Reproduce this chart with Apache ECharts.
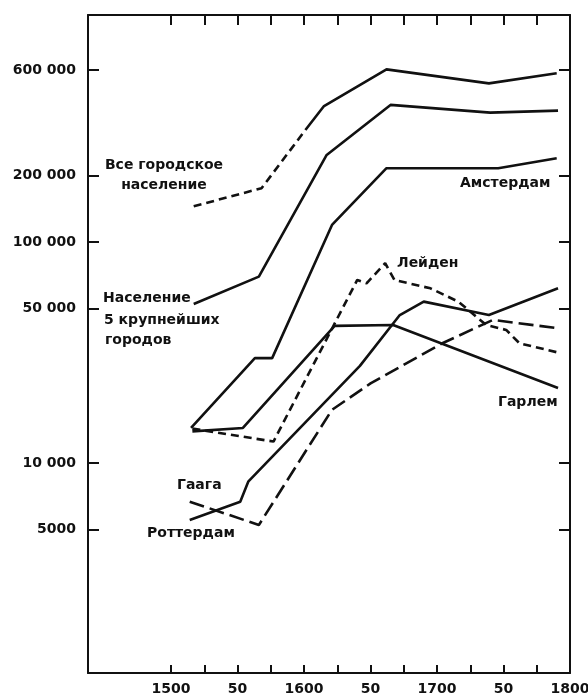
<!DOCTYPE html>
<html>
<head>
<meta charset="utf-8">
<script src="https://cdn.jsdelivr.net/npm/echarts@6/dist/echarts.min.js"></script>
<style>
  html, body { margin: 0; padding: 0; background: #fff; }
  #chart { width: 588px; height: 698px; }
</style>
</head>
<body>
<div id="chart"></div>
<script>
// ось X: засечки каждые 25 лет, подписи каждые 50
const xTicks = [1500, 1525, 1550, 1575, 1600, 1625, 1650, 1675, 1700, 1725, 1750, 1775]
const xLabels = [1500, 1550, 1600, 1650, 1700, 1750, 1800]
const yLabels = [5000, 10000, 50000, 100000, 200000, 600000]

// все городское население (пунктир до ~1600, дальше сплошная)
const totalDashYears = [1517, 1568, 1601]
const totalDashValues = [145000, 175000, 321000]
const totalYears = [1601, 1615, 1662, 1739, 1790]
const totalValues = [321000, 412000, 604000, 522000, 580000]

// население 5 крупнейших городов
const fiveYears = [1517, 1566, 1617, 1665, 1740, 1791]
const fiveValues = [52400, 69700, 247600, 417000, 384700, 393000]

const amsterdamYears = [1515, 1563, 1576, 1621, 1662, 1746, 1790]
const amsterdamValues = [14400, 29800, 29800, 119400, 215600, 215600, 239000]

const haarlemYears = [1516, 1554, 1623, 1667, 1791]
const haarlemValues = [13900, 14400, 41700, 42100, 21850]

const leidenYears = [1516, 1577, 1640, 1647, 1661, 1668, 1695, 1716, 1737, 1752, 1762, 1791]
const leidenValues = [14300, 12500, 67300, 65000, 80100, 67300, 61700, 53700, 42100, 40000, 34800, 31600]

const rotterdamYears = [1514, 1552, 1558, 1642, 1672, 1690, 1739, 1791]
const rotterdamValues = [5520, 6680, 8230, 27500, 46700, 53700, 46700, 61700]

const hagueYears = [1514, 1566, 1621, 1650, 1704, 1742, 1791]
const hagueValues = [6680, 5240, 17400, 22900, 34800, 44400, 40700]

const INK = '#111'
const FONT = 'DejaVu Sans'

function pairs (xs, ys) {
  return xs.map((x, i) => [x, ys[i]])
}

function line (name, xs, ys, dash) {
  return {
    name: name,
    type: 'line',
    data: pairs(xs, ys),
    showSymbol: false,
    symbol: 'none',
    silent: true,
    lineStyle: { color: INK, width: 2.6, type: dash || 'solid', cap: 'butt' }
  }
}

function fmtY (v) {
  v = Math.round(v)
  if (v < 10000) return String(v)
  let s = String(v)
  return s.replace(/\B(?=(\d{3})+(?!\d))/g, ' ')
}

function fmtX (v) {
  v = Math.round(v)
  return (v % 100 === 50) ? '50' : String(v)
}

const labelFont = { color: INK, fontFamily: FONT, fontWeight: 'bold', fontSize: 14 }
const axisLineStyle = { lineStyle: { color: INK, width: 2 } }

function txt (text, x, y, align) {
  return {
    type: 'text',
    x: x,
    y: y,
    silent: true,
    style: {
      text: text,
      fill: INK,
      font: 'bold 14px "' + FONT + '"',
      align: align || 'left',
      verticalAlign: 'middle'
    }
  }
}

let dom = document.getElementById('chart')
let chart = echarts.init(dom, null, { renderer: 'canvas' })

let option = {
  animation: false,
  backgroundColor: '#fff',
  grid: { left: 88, right: 18, top: 15, bottom: 25, containLabel: false, outerBoundsMode: 'none' },
  xAxis: [
    {
      type: 'value',
      position: 'bottom',
      min: 1437.5,
      max: 1800,
      axisLine: axisLineStyle,
      axisTick: { inside: true, length: 8, customValues: xTicks, lineStyle: { color: INK, width: 2 } },
      axisLabel: Object.assign({ customValues: xLabels, formatter: fmtX, margin: 9 }, labelFont),
      splitLine: { show: false }
    },
    {
      type: 'value',
      position: 'top',
      min: 1437.5,
      max: 1800,
      axisLine: axisLineStyle,
      axisTick: { inside: true, length: 10, customValues: xTicks, lineStyle: { color: INK, width: 2 } },
      axisLabel: { show: false },
      splitLine: { show: false }
    }
  ],
  yAxis: [
    {
      type: 'log',
      position: 'left',
      min: 1121,
      max: 1064000,
      axisLine: { show: true, lineStyle: { color: INK, width: 2 } },
      axisTick: { show: true, inside: true, length: 11, customValues: yLabels, lineStyle: { color: INK, width: 2 } },
      axisLabel: Object.assign({ customValues: yLabels, formatter: fmtY, margin: 12 }, labelFont),
      splitLine: { show: false }
    },
    {
      type: 'log',
      position: 'right',
      min: 1121,
      max: 1064000,
      axisLine: { show: true, lineStyle: { color: INK, width: 2 } },
      axisTick: { show: true, inside: true, length: 11, customValues: yLabels, lineStyle: { color: INK, width: 2 } },
      axisLabel: { show: false },
      splitLine: { show: false }
    }
  ],
  series: [
    line('Все городское население', totalDashYears, totalDashValues, [8, 5]),
    line('Все городское население', totalYears, totalValues),
    line('Население 5 крупнейших городов', fiveYears, fiveValues),
    line('Амстердам', amsterdamYears, amsterdamValues),
    line('Гарлем', haarlemYears, haarlemValues),
    line('Лейден', leidenYears, leidenValues, [8, 5]),
    line('Роттердам', rotterdamYears, rotterdamValues),
    line('Гаага', hagueYears, hagueValues, [15, 6])
  ],
  graphic: [
    txt('Все городское', 164, 165, 'center'),
    txt('население', 164, 185, 'center'),
    txt('Население', 103, 298),
    txt('5 крупнейших', 104, 320),
    txt('городов', 105, 340),
    txt('Амстердам', 460, 183),
    txt('Лейден', 397, 263),
    txt('Гарлем', 498, 402),
    txt('Гаага', 177, 485),
    txt('Роттердам', 147, 533)
  ]
}

chart.setOption(option)
</script>
</body>
</html>
